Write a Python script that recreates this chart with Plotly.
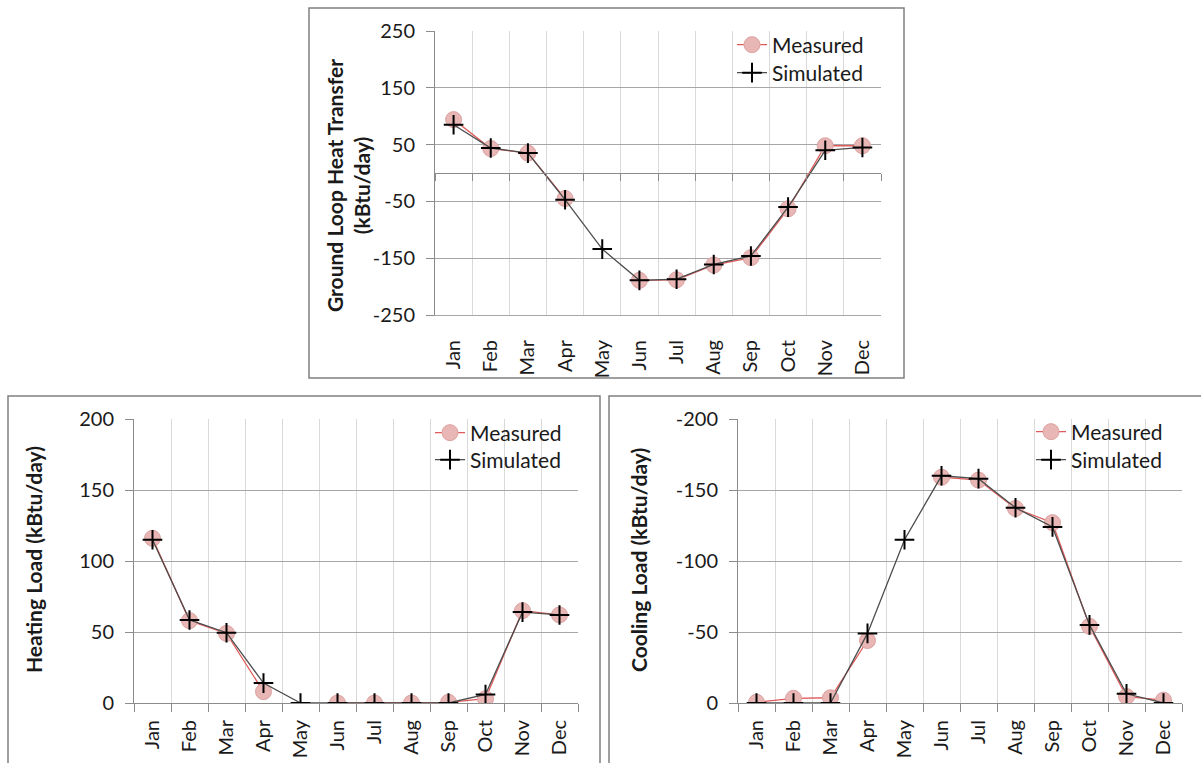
import plotly.graph_objects as go

# ---- data -------------------------------------------------------------
months = ["Jan", "Feb", "Mar", "Apr", "May", "Jun",
          "Jul", "Aug", "Sep", "Oct", "Nov", "Dec"]

# Ground loop heat transfer (kBtu/day); no measurement in May
gl_measured = [94, 43, 35, -45, None, -189, -188, -162, -149, -63, 48, 48]
gl_simulated = [85, 44, 35, -47, -134, -189, -187, -161, -146, -60, 40, 45]

# Heating load (kBtu/day)
heat_measured = [116, 58, 49, 8, None, 0, 0, 0, 0.5, 3, 65, 62]
heat_simulated = [115, 58.5, 49.5, 14, 0, 0, 0, 0, 0, 6, 64, 62]

# Cooling load (kBtu/day), negative = heat removed
cool_measured = [-0.5, -3.3, -3.7, -44, None, -159, -157, -137, -127, -54, -4.5, -2]
cool_simulated = [0, 0, 0, -49, -115, -160, -158, -137.5, -124, -55, -6.5, 0]

gl_ticks = [250, 150, 50, -50, -150, -250]
heat_ticks = [0, 50, 100, 150, 200]
cool_ticks = [0, -50, -100, -150, -200]

# ---- page geometry (pixels -> paper fractions) -------------------------
W, H = 1201, 763
FONT = "Lato"
TXT = "#1a1a1a"
GRID_H = "#a6a6a6"
GRID_V = "#d9d9d9"
AXIS = "#8c8c8c"


def px(x):
    return x / W


def py(y):
    return 1 - y / H


fig = go.Figure()

MEAS_LINE = dict(color="#e05a5a", width=1.3)
MEAS_MARK = dict(symbol="circle", size=16, color="#e8b6b5",
                 line=dict(color="#dca2a1", width=1))
SIM_LINE = dict(color="#4d4d4d", width=1.3)
SIM_MARK = dict(symbol="cross-thin", size=14, color="black",
                line=dict(color="black", width=2))


def add_pair(meas, sim, xa, ya, leg_m, leg_s):
    fig.add_trace(go.Scatter(x=months, y=meas, name="Measured", mode="lines+markers",
                             line=MEAS_LINE, marker=MEAS_MARK, connectgaps=False,
                             xaxis=xa, yaxis=ya, legend=leg_m))
    fig.add_trace(go.Scatter(x=months, y=sim, name="Simulated", mode="lines+markers",
                             line=SIM_LINE, marker=SIM_MARK,
                             xaxis=xa, yaxis=ya, legend=leg_s))


add_pair(gl_measured, gl_simulated, "x", "y", "legend", "legend2")
# empty trace carrying the category axis drawn along the zero line
fig.add_trace(go.Scatter(x=months, y=[None] * 12, xaxis="x2", yaxis="y",
                         showlegend=False, hoverinfo="skip"))
add_pair(heat_measured, heat_simulated, "x3", "y3", "legend3", "legend4")
add_pair(cool_measured, cool_simulated, "x4", "y4", "legend5", "legend6")

tickfont = dict(family=FONT, size=20, color=TXT)


def xaxis(dom, anchor, ticks="outside", standoff=8, **kw):
    d = dict(domain=[px(dom[0]), px(dom[1])], anchor=anchor, type="category",
             categoryorder="array", categoryarray=months, range=[-0.5, 11.5],
             tickson="boundaries", showgrid=True, gridcolor=GRID_V, gridwidth=1,
             ticks=ticks, ticklen=8, tickcolor=AXIS, tickwidth=1,
             showline=True, linecolor=AXIS, linewidth=1, automargin=False,
             tickangle=-90, tickfont=tickfont, ticklabelstandoff=standoff,
             zeroline=False, fixedrange=True)
    d.update(kw)
    return d


def yaxis(dom, anchor, rng, tickvals):
    return dict(domain=[py(dom[1]), py(dom[0])], anchor=anchor, range=rng,
                tickvals=tickvals, ticktext=[str(v) for v in tickvals],
                showgrid=True, gridcolor=GRID_H, gridwidth=1,
                ticks="outside", ticklen=8, tickcolor=AXIS, tickwidth=1,
                showline=True, linecolor=AXIS, linewidth=1, zeroline=False,
                automargin=False, tickfont=tickfont, ticklabelstandoff=7,
                fixedrange=True)


top_x = (435, 881)
top_y = (31, 315)
heat_x = (134, 578)
heat_y = (419, 703)
cool_x = (738, 1182)
cool_y = (419, 703)

zero_pos = (py(top_y[0]) + py(top_y[1])) / 2

fig.update_layout(
    width=W, height=H,
    margin=dict(l=0, r=0, t=0, b=0, autoexpand=False),
    paper_bgcolor="white", plot_bgcolor="white",
    font=dict(family=FONT, color=TXT),
    xaxis=xaxis(top_x, "y", ticks="", standoff=16, linecolor=GRID_H),
    xaxis2=dict(overlaying="x", anchor="free", position=zero_pos, type="category",
                categoryorder="array", categoryarray=months, range=[-0.5, 11.5],
                tickson="boundaries", showgrid=False, showticklabels=False,
                ticks="outside", ticklen=7, tickcolor=AXIS, showline=True,
                linecolor=AXIS, linewidth=1, zeroline=False, automargin=False,
                fixedrange=True),
    yaxis=yaxis(top_y, "x", [-250, 250], gl_ticks),
    xaxis3=xaxis(heat_x, "y3"),
    yaxis3=yaxis(heat_y, "x3", [0, 200], heat_ticks),
    xaxis4=xaxis(cool_x, "y4"),
    yaxis4=yaxis(cool_y, "x4", [0, -200], cool_ticks),
    showlegend=True,
)

# one legend per entry so every label sits where it belongs
leg_font = dict(family=FONT, size=21, color=TXT)
legend_pos = {
    "legend": (732, 45), "legend2": (732, 73),
    "legend3": (430, 433), "legend4": (430, 460),
    "legend5": (1031, 432), "legend6": (1031, 460),
}
for name, (lx, ly) in legend_pos.items():
    fig.update_layout({name: dict(x=px(lx), y=py(ly), xanchor="left", yanchor="middle",
                                  bgcolor="rgba(0,0,0,0)", borderwidth=0, font=leg_font,
                                  itemclick=False, itemdoubleclick=False)})

# white patches behind the legends, above the gridlines but under the data
for x0, y0, x1, y1 in [(728, 33, 874, 80), (427, 421, 568, 472), (1028, 421, 1175, 472)]:
    fig.add_shape(type="rect", xref="paper", yref="paper",
                  x0=px(x0), y0=py(y0), x1=px(x1), y1=py(y1),
                  line=dict(width=0), fillcolor="white", layer="between")

# axis titles
title_font = dict(family=FONT, size=21, color=TXT, weight="bold")
for text, x, y in [
    ("Ground Loop Heat Transfer<br>(kBtu/day)", 348, 186),
    ("Heating Load (kBtu/day)", 33, 560),
    ("Cooling Load (kBtu/day)", 638, 560),
]:
    fig.add_annotation(text=text, x=px(x), y=py(y), xref="paper", yref="paper",
                       textangle=-90, showarrow=False, font=title_font,
                       xanchor="center", yanchor="middle")

# panel frames
for x0, y0, x1, y1 in [(309, 8, 904, 378), (8, 396, 600, 775), (609, 396, 1205, 775)]:
    fig.add_shape(type="rect", xref="paper", yref="paper",
                  x0=px(x0), y0=py(y0), x1=px(x1), y1=py(y1),
                  line=dict(color="#808080", width=1.5), fillcolor="rgba(0,0,0,0)",
                  layer="above")

fig.write_html("out.html")
